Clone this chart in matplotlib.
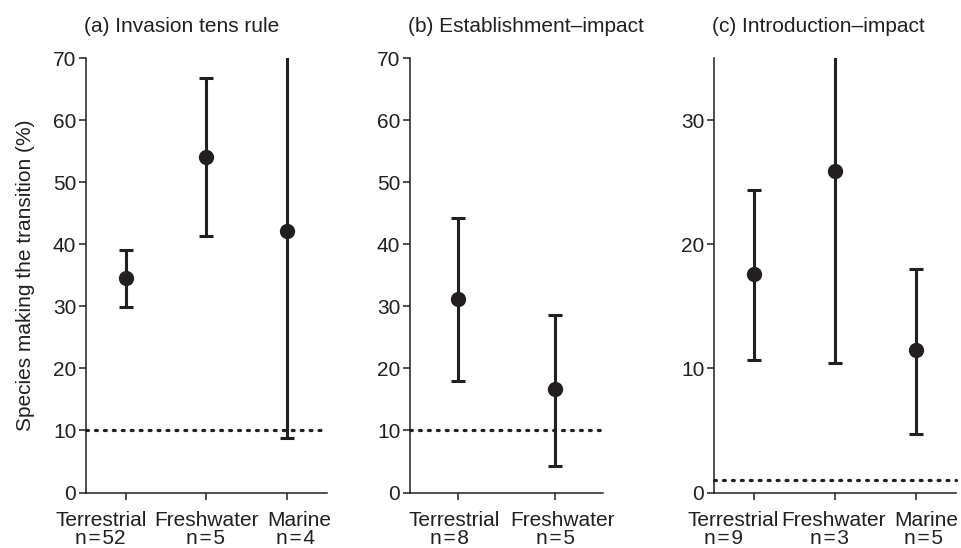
import matplotlib
matplotlib.use("Agg")
import matplotlib.pyplot as plt

plt.rcParams['font.family'] = ['Liberation Sans', 'DejaVu Sans']

# Panel (a) Invasion tens rule
a_cats = ["Terrestrial", "Freshwater", "Marine"]
a_n = [52, 5, 4]
a_mean = [34.5, 54.1, 42.2]
a_low = [29.9, 41.3, 8.8]
a_high = [39.0, 66.7, 75.0]

# Panel (b) Establishment-impact
b_cats = ["Terrestrial", "Freshwater"]
b_n = [8, 5]
b_mean = [31.2, 16.6]
b_low = [18.0, 4.3]
b_high = [44.2, 28.6]

# Panel (c) Introduction-impact
c_cats = ["Terrestrial", "Freshwater", "Marine"]
c_n = [9, 3, 5]
c_mean = [17.6, 25.9, 11.45]
c_low = [10.7, 10.4, 4.75]
c_high = [24.4, 37.0, 18.0]

titles = ["(a) Invasion tens rule", "(b) Establishment\u2013impact", "(c) Introduction\u2013impact"]
ref_lines = [10, 10, 1]
ylims = [70, 70, 35]
yticks = [list(range(0, 71, 10)), list(range(0, 71, 10)), [0, 10, 20, 30]]

# horizontal nudges (pixels) of category labels, as placed in the original
name_shift = [[-25, 0, 12], [-4, 8], [-21, -1, 11]]
n_shift = [[-26, -1, 9], [-9, 1], [-31, -5, 8]]

fig = plt.figure(figsize=(9.62, 5.48), dpi=100)
bottom = 1 - 492.5 / 548
top = 1 - 58 / 548
positions = [(86, 327), (410, 603), (714, 956)]

data = [
    (a_cats, a_n, a_mean, a_low, a_high),
    (b_cats, b_n, b_mean, b_low, b_high),
    (c_cats, c_n, c_mean, c_low, c_high),
]

col = "#231f20"
fs = 15
for i, ((cats, ns, mean, low, high), (l, r)) in enumerate(zip(data, positions)):
    ax = fig.add_axes([l / 962, bottom, (r - l) / 962, top - bottom])
    x = list(range(len(cats)))
    yerr = [[m - lo for m, lo in zip(mean, low)], [h - m for m, h in zip(mean, high)]]
    ax.errorbar(x, mean, yerr=yerr, fmt='o', color=col, ecolor=col,
                markersize=10, elinewidth=2.2, capsize=5.2, capthick=2.2, zorder=3)
    ax.axhline(ref_lines[i], color=col, linewidth=2.3, linestyle=(0, (0.6, 2.2)),
               dash_capstyle='round', zorder=2, clip_on=False)
    ax.set_xlim(-0.5, len(cats) - 0.5)
    ax.set_ylim(0, ylims[i])
    ax.set_yticks(yticks[i])
    ax.set_xticks(x)
    ax.set_xticklabels([])
    for j, (c, n) in enumerate(zip(cats, ns)):
        ax.annotate(c, xy=(x[j], 0), xycoords=('data', 'axes fraction'),
                    xytext=(name_shift[i][j], -33), textcoords='offset pixels',
                    ha='center', va='baseline', fontsize=fs, color=col,
                    annotation_clip=False)
        ax.annotate(f"n\u200a=\u200a{n}", xy=(x[j], 0), xycoords=('data', 'axes fraction'),
                    xytext=(n_shift[i][j], -52), textcoords='offset pixels',
                    ha='center', va='baseline', fontsize=fs, color=col,
                    annotation_clip=False)
    for s in ["top", "right"]:
        ax.spines[s].set_visible(False)
    for s in ["left", "bottom"]:
        ax.spines[s].set_linewidth(1.1)
        ax.spines[s].set_color(col)
    ax.tick_params(axis='both', labelsize=fs, colors=col, width=1.1, length=5,
                   direction='out')
    ax.tick_params(axis='y', pad=2)
    ax.set_title(titles[i], loc='left', fontsize=fs, color=col, pad=19, x=-0.008)
    if i == 0:
        ax.set_ylabel("Species making the transition (%)", fontsize=fs, color=col, labelpad=13)

fig.savefig("out.png", dpi=100)
